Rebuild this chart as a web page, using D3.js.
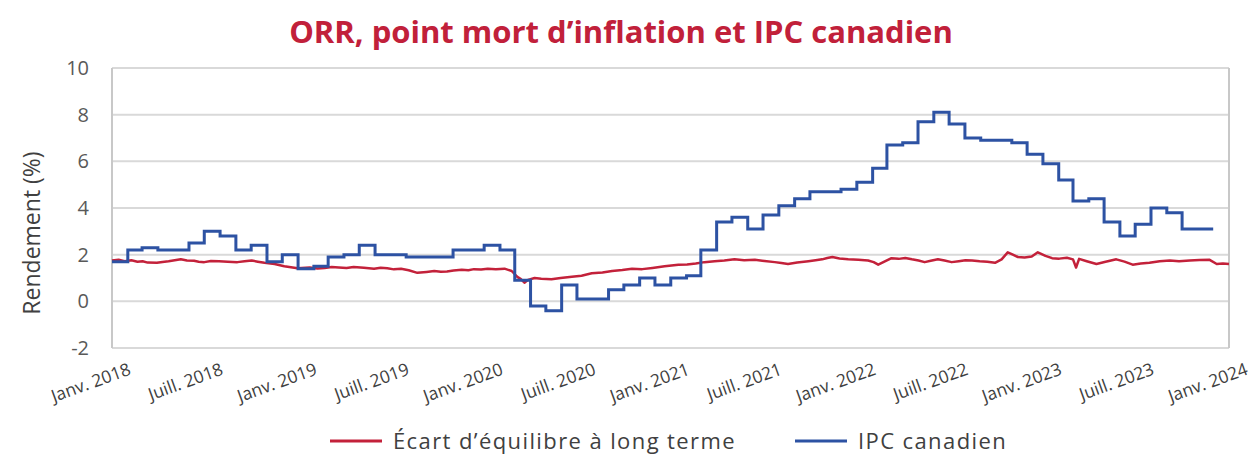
<!DOCTYPE html>
<html>
<head>
<meta charset="utf-8">
<script src="https://cdn.jsdelivr.net/npm/d3@7"></script>
<style>
  body { margin: 0; background: #fff; }
  text { font-family: "Open Sans", "Noto Sans", sans-serif; }
</style>
</head>
<body>
<svg id="chart"></svg>
<script>
const WIDTH = 1253
const HEIGHT = 459
const margin = { top: 68, right: 24, bottom: 111, left: 112 }

const title = "ORR, point mort d’inflation et IPC canadien"
const yLabel = "Rendement (%)"
const yTicks = [-2, 0, 2, 4, 6, 8, 10]
const xTickDates = ["2018-01-01", "2018-07-01", "2019-01-01", "2019-07-01", "2020-01-01", "2020-07-01",
    "2021-01-01", "2021-07-01", "2022-01-01", "2022-07-01", "2023-01-01", "2023-07-01", "2024-01-01"]
const xTickLabels = ["Janv. 2018", "Juill. 2018", "Janv. 2019", "Juill. 2019", "Janv. 2020", "Juill. 2020",
    "Janv. 2021", "Juill. 2021", "Janv. 2022", "Juill. 2022", "Janv. 2023", "Juill. 2023", "Janv. 2024"]

// IPC canadien, variation annuelle mensuelle (jan. 2018 -> nov. 2023)
const cpiStart = "2018-01-01"
const cpiValues = [
    1.7, 2.2, 2.3, 2.2, 2.2, 2.5, 3.0, 2.8, 2.2, 2.4, 1.7, 2.0,
    1.4, 1.5, 1.9, 2.0, 2.4, 2.0, 2.0, 1.9, 1.9, 1.9, 2.2, 2.2,
    2.4, 2.2, 0.9, -0.2, -0.4, 0.7, 0.1, 0.1, 0.5, 0.7, 1.0, 0.7,
    1.0, 1.1, 2.2, 3.4, 3.6, 3.1, 3.7, 4.1, 4.4, 4.7, 4.7, 4.8,
    5.1, 5.7, 6.7, 6.8, 7.7, 8.1, 7.6, 7.0, 6.9, 6.9, 6.8, 6.3,
    5.9, 5.2, 4.3, 4.4, 3.4, 2.8, 3.3, 4.0, 3.8, 3.1, 3.1
]

// Écart d'équilibre à long terme (point mort d'inflation)
const beDates = [
    "2018-01-01", "2018-01-14", "2018-01-26", "2018-02-08", "2018-02-20", "2018-03-02", "2018-03-12", "2018-03-30",
    "2018-04-10", "2018-04-22", "2018-05-04", "2018-05-16", "2018-05-28", "2018-06-11", "2018-06-20", "2018-07-01",
    "2018-07-14", "2018-07-30", "2018-08-16", "2018-09-04", "2018-09-18", "2018-10-02", "2018-10-14", "2018-10-27",
    "2018-11-16", "2018-12-05", "2018-12-31", "2019-01-24", "2019-02-08", "2019-02-22", "2019-03-08", "2019-03-22",
    "2019-04-06", "2019-04-20", "2019-05-10", "2019-05-30", "2019-06-12", "2019-06-25", "2019-07-08", "2019-07-22",
    "2019-08-06", "2019-08-23", "2019-09-10", "2019-09-25", "2019-10-08", "2019-10-20", "2019-11-02", "2019-11-18",
    "2019-12-01", "2019-12-12", "2019-12-26", "2020-01-08", "2020-01-24", "2020-02-10", "2020-02-24", "2020-03-06",
    "2020-03-13", "2020-03-20", "2020-03-27", "2020-04-09", "2020-04-22", "2020-05-12", "2020-05-30", "2020-06-21",
    "2020-07-10", "2020-07-30", "2020-08-20", "2020-09-08", "2020-09-28", "2020-10-17", "2020-11-06", "2020-11-26",
    "2020-12-20", "2021-01-16", "2021-02-02", "2021-02-19", "2021-03-08", "2021-03-28", "2021-04-16", "2021-05-06",
    "2021-05-25", "2021-06-15", "2021-07-04", "2021-07-24", "2021-08-06", "2021-08-19", "2021-09-06", "2021-09-28",
    "2021-10-12", "2021-10-25", "2021-11-04", "2021-11-14", "2021-11-28", "2021-12-15", "2022-01-04", "2022-01-23",
    "2022-02-03", "2022-02-12", "2022-02-24", "2022-03-10", "2022-03-24", "2022-04-06", "2022-04-19", "2022-05-02",
    "2022-05-14", "2022-05-26", "2022-06-09", "2022-06-22", "2022-07-06", "2022-07-20", "2022-08-02", "2022-08-15",
    "2022-08-30", "2022-09-14", "2022-09-29", "2022-10-12", "2022-10-24", "2022-11-03", "2022-11-13", "2022-11-26",
    "2022-12-10", "2022-12-22", "2023-01-06", "2023-01-19", "2023-02-02", "2023-02-17", "2023-03-01", "2023-03-07",
    "2023-03-13", "2023-03-28", "2023-04-16", "2023-05-04", "2023-05-25", "2023-06-10", "2023-06-26", "2023-07-12",
    "2023-07-29", "2023-08-18", "2023-09-07", "2023-09-25", "2023-10-16", "2023-11-04", "2023-11-24", "2023-12-08",
    "2023-12-20", "2024-01-01"
]
const beValues = [
    1.75, 1.78, 1.72, 1.76, 1.70, 1.72, 1.66, 1.65,
    1.69, 1.72, 1.76, 1.80, 1.75, 1.74, 1.70, 1.68,
    1.73, 1.72, 1.70, 1.68, 1.72, 1.75, 1.70, 1.65,
    1.60, 1.50, 1.42, 1.45, 1.41, 1.43, 1.47, 1.45,
    1.43, 1.47, 1.44, 1.40, 1.44, 1.42, 1.37, 1.40,
    1.33, 1.22, 1.26, 1.30, 1.27, 1.28, 1.32, 1.35,
    1.33, 1.38, 1.36, 1.40, 1.38, 1.40, 1.30, 1.05,
    0.95, 0.80, 0.92, 1.00, 0.97, 0.95, 1.00, 1.05,
    1.10, 1.20, 1.24, 1.30, 1.34, 1.40, 1.38, 1.43,
    1.50, 1.57, 1.58, 1.62, 1.68, 1.72, 1.75, 1.80,
    1.76, 1.78, 1.73, 1.68, 1.64, 1.60, 1.66, 1.72,
    1.76, 1.80, 1.86, 1.90, 1.84, 1.80, 1.78, 1.75,
    1.68, 1.57, 1.70, 1.85, 1.82, 1.86, 1.80, 1.75,
    1.68, 1.74, 1.80, 1.75, 1.68, 1.72, 1.76, 1.75,
    1.72, 1.70, 1.65, 1.80, 2.10, 2.00, 1.90, 1.88,
    1.92, 2.10, 1.95, 1.85, 1.83, 1.87, 1.80, 1.45,
    1.82, 1.72, 1.60, 1.70, 1.80, 1.70, 1.57, 1.62,
    1.65, 1.72, 1.75, 1.72, 1.75, 1.77, 1.78, 1.60,
    1.62, 1.60
]

const RED = "#c3213a"
const BLUE = "#2d52a3"

const parse = d3.utcParse("%Y-%m-%d")
const cpi = cpiValues.map((v, i) => ({ date: d3.utcMonth.offset(parse(cpiStart), i), value: v }))
cpi.push({ date: d3.utcMonth.offset(parse(cpiStart), cpiValues.length), value: cpiValues[cpiValues.length - 1] })
const breakeven = beDates.map((d, i) => ({ date: parse(d), value: beValues[i] }))

const svg = d3.select("#chart").attr("width", WIDTH).attr("height", HEIGHT)

const x = d3.scaleUtc()
    .domain([parse("2018-01-01"), parse("2024-01-01")])
    .range([margin.left, WIDTH - margin.right])
const y = d3.scaleLinear()
    .domain([-2, 10])
    .range([HEIGHT - margin.bottom, margin.top])

svg.append("text")
    .attr("x", 621)
    .attr("y", 43)
    .attr("text-anchor", "middle")
    .style("font-size", "31px")
    .style("font-weight", "bold")
    .style("fill", "#c1203a")
    .text(title)

// grid
svg.append("g")
    .selectAll("line")
    .data(yTicks)
    .join("line")
    .attr("x1", margin.left)
    .attr("x2", WIDTH - margin.right)
    .attr("y1", d => y(d))
    .attr("y2", d => y(d))
    .attr("stroke", "#d9d9d9")
    .attr("stroke-width", 2)

// frame sides
svg.append("g")
    .selectAll("line")
    .data(x.range())
    .join("line")
    .attr("x1", d => d)
    .attr("x2", d => d)
    .attr("y1", y(10))
    .attr("y2", y(-2))
    .attr("stroke", "#c8c8c8")
    .attr("stroke-width", 2)

// y ticks labels
svg.append("g")
    .selectAll("text")
    .data(yTicks)
    .join("text")
    .attr("x", 89)
    .attr("y", d => y(d))
    .attr("dy", "0.35em")
    .attr("text-anchor", "end")
    .style("font-size", "20px")
    .style("fill", "#595959")
    .text(d => d)

svg.append("text")
    .attr("transform", `translate(40, ${(y(10) + y(-2)) / 2 + 25}) rotate(-90)`)
    .attr("text-anchor", "middle")
    .style("font-size", "23px")
    .style("fill", "#404040")
    .text(yLabel)

// x ticks labels
svg.append("g")
    .selectAll("text")
    .data(xTickDates)
    .join("text")
    .attr("transform", d => `translate(${x(parse(d)) + 20}, 374) rotate(-20)`)
    .attr("text-anchor", "end")
    .style("font-size", "17.5px")
    .style("fill", "#404040")
    .text((d, i) => xTickLabels[i])

const line = d3.line()
    .x(d => x(d.date))
    .y(d => y(d.value))

svg.append("path")
    .datum(breakeven)
    .attr("fill", "none")
    .attr("stroke", RED)
    .attr("stroke-width", 2.5)
    .attr("stroke-linejoin", "round")
    .attr("d", line)

svg.append("path")
    .datum(cpi)
    .attr("fill", "none")
    .attr("stroke", BLUE)
    .attr("stroke-width", 3)
    .attr("d", line.curve(d3.curveStepAfter))

// legend
const legendItems = [
    { label: "Écart d’équilibre à long terme", color: RED, x: 330 },
    { label: "IPC canadien", color: BLUE, x: 795 }
]
const legend = svg.append("g")
    .selectAll("g")
    .data(legendItems)
    .join("g")
    .attr("transform", d => `translate(${d.x}, 441)`)
legend.append("line")
    .attr("x1", 0)
    .attr("x2", 52)
    .attr("stroke", d => d.color)
    .attr("stroke-width", 3)
legend.append("text")
    .attr("x", 63)
    .attr("dy", "0.35em")
    .style("font-size", "22px")
    .style("letter-spacing", "1.4px")
    .style("fill", "#404040")
    .text(d => d.label)
</script>
</body>
</html>
